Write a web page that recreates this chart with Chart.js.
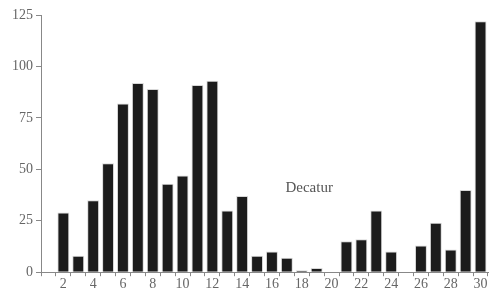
<!DOCTYPE html>
<html>
<head>
<meta charset="utf-8">
<script src="https://cdn.jsdelivr.net/npm/chart.js@4"></script>
<style>
  html, body { margin: 0; padding: 0; background: #fff; }
  #wrap { width: 496px; height: 293px; }
</style>
</head>
<body>
<div id="wrap"><canvas id="bar-chart"></canvas></div>
<script>
var days = [];
for (var d = 1; d <= 30; d++) days.push(String(d));
var counts = [0, 29, 8, 35, 53, 82, 92, 89, 43, 47, 91, 93, 30, 37, 8,
              10, 7, 1, 2, 0, 15, 16, 30, 10, 0, 13, 24, 11, 40, 122];
var yTicks = [0, 25, 50, 75, 100, 125];
var stationName = "Decatur";

var labelPlugin = {
  id: 'stationLabel',
  afterDraw: function (chart) {
    var ctx = chart.ctx;
    var x = chart.scales.x.getPixelForValue(17.5);
    var y = chart.scales.y.getPixelForValue(41);
    ctx.save();
    ctx.font = '15px "Liberation Serif", serif';
    ctx.fillStyle = '#555';
    ctx.textAlign = 'center';
    ctx.textBaseline = 'middle';
    ctx.fillText(stationName, x, y);
    ctx.restore();
  }
};

new Chart(document.getElementById("bar-chart"), {
  type: 'bar',
  data: {
    labels: days,
    datasets: [{
      label: stationName,
      data: counts,
      backgroundColor: "#1c1c1c",
      borderColor: "#d8d8d8",
      borderWidth: 1,
      barPercentage: 0.8,
      categoryPercentage: 1.0
    }]
  },
  options: {
    responsive: true,
    maintainAspectRatio: false,
    animation: false,
    layout: { padding: { top: 15, right: 8, left: 9, bottom: 0 } },
    plugins: {
      legend: { display: false },
      tooltip: { enabled: false }
    },
    scales: {
      x: {
        grid: { display: true, drawOnChartArea: false, drawTicks: true, tickLength: 4, color: '#888' },
        border: { color: '#888' },
        ticks: {
          autoSkip: false,
          maxRotation: 0,
          color: '#666',
          font: { family: '"Liberation Serif", serif', size: 14 },
          padding: 0,
          callback: function (val, i) { return (i + 1) % 2 === 0 ? days[i] : ''; }
        }
      },
      y: {
        min: 0,
        max: 125,
        afterBuildTicks: function (axis) {
          axis.ticks = yTicks.map(function (v) { return { value: v }; });
        },
        grid: { display: true, drawOnChartArea: false, drawTicks: true, tickLength: 5, color: '#888' },
        border: { color: '#888' },
        ticks: {
          color: '#666',
          font: { family: '"Liberation Serif", serif', size: 14 },
          padding: 3
        }
      }
    }
  },
  plugins: [labelPlugin]
});
</script>
</body>
</html>
